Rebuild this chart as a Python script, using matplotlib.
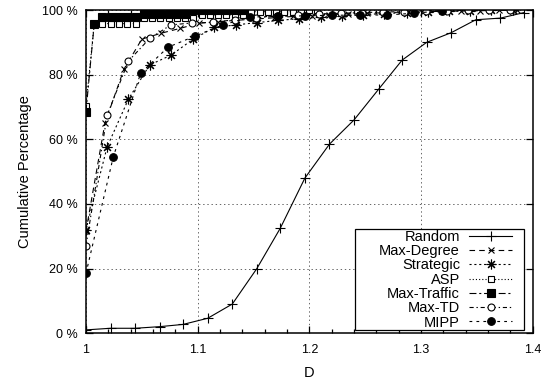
import matplotlib
matplotlib.use("Agg")
import matplotlib.pyplot as plt
from matplotlib.patches import Rectangle
from matplotlib.ticker import MultipleLocator, FuncFormatter

plt.rcParams['font.family'] = ['Liberation Sans', 'DejaVu Sans']
plt.rcParams['lines.scale_dashes'] = False

# Random
rnd_d = [1.0, 1.022, 1.044, 1.066, 1.087, 1.109, 1.131, 1.153, 1.174, 1.196,
         1.218, 1.24, 1.262, 1.283, 1.305, 1.327, 1.349, 1.371, 1.392]
rnd_p = [1.0, 1.5, 1.5, 2.0, 2.7, 4.6, 9.0, 20.0, 32.5, 48.0,
         58.5, 66.0, 75.5, 84.5, 90.0, 93.0, 97.0, 97.5, 99.2]

# Max-Degree
deg_d = [1.0, 1.017, 1.034, 1.05, 1.067, 1.084, 1.101, 1.118, 1.134, 1.151,
         1.168, 1.185, 1.202, 1.218, 1.235, 1.252, 1.269, 1.286, 1.302, 1.319,
         1.336, 1.353, 1.37, 1.386]
deg_p = [31.5, 65.0, 81.7, 91.0, 92.8, 94.3, 95.9, 96.4, 96.8, 97.2,
         97.6, 98.0, 98.3, 98.6, 98.8, 99.0, 99.2, 99.4, 99.5, 99.6,
         99.7, 99.8, 99.9, 100.0]

# Strategic
str_d = [1.0, 1.019, 1.038, 1.057, 1.076, 1.096, 1.115, 1.134, 1.153, 1.172,
         1.191, 1.21, 1.229, 1.248, 1.267, 1.287, 1.306, 1.325, 1.344, 1.363, 1.382]
str_p = [32.0, 57.7, 72.4, 83.0, 86.0, 91.0, 94.6, 95.4, 96.1, 96.8,
         97.3, 97.8, 98.2, 98.6, 98.9, 99.2, 99.4, 99.6, 99.8, 99.9, 100.0]

# ASP
asp_d = [1.0, 1.0074, 1.0148, 1.0222, 1.0296, 1.037, 1.0444, 1.0518, 1.0592, 1.0666,
         1.074, 1.0814, 1.0888, 1.0962, 1.1036, 1.111, 1.1184, 1.1258, 1.1332, 1.1406,
         1.148, 1.1554, 1.1628, 1.1702, 1.1776, 1.185, 1.1924, 1.1998, 1.2072]
asp_p = [70.3, 95.8, 95.8, 95.8, 95.8, 95.8, 95.8, 97.4, 97.4, 97.4,
         97.4, 97.4, 97.4, 97.4, 98.5, 98.5, 98.5, 98.5, 98.5, 98.5,
         99.5, 99.5, 99.5, 99.5, 99.5, 99.5, 99.5, 100.0, 100.0]

# Max-Traffic
trf_d = [1.0, 1.0074, 1.0148, 1.0222, 1.0296, 1.037, 1.0444, 1.0518, 1.0592, 1.0666,
         1.074, 1.0814, 1.0888, 1.0962, 1.1036, 1.111, 1.1184, 1.1258, 1.1332, 1.1406]
trf_p = [68.5, 95.7, 97.7, 97.7, 97.7, 97.7, 97.7, 98.8, 98.8, 98.8,
         98.8, 98.8, 98.8, 100.0, 100.0, 100.0, 100.0, 100.0, 100.0, 100.0]

# Max-TD
td_d = [1.0, 1.019, 1.038, 1.057, 1.076, 1.095, 1.114, 1.133, 1.152, 1.171,
        1.19, 1.209, 1.228, 1.247, 1.266, 1.285, 1.304, 1.323, 1.342, 1.361, 1.38]
td_p = [27.0, 67.5, 84.2, 91.2, 95.4, 96.0, 96.2, 97.0, 97.6, 98.1,
        98.4, 98.8, 99.0, 99.2, 99.4, 99.5, 99.7, 99.8, 99.9, 100.0, 100.0]

# MIPP
mipp_d = [1.0, 1.0245, 1.049, 1.0735, 1.098, 1.1225, 1.147, 1.1715, 1.196, 1.2205,
          1.245, 1.2695, 1.294, 1.3185]
mipp_p = [18.5, 54.6, 80.5, 88.5, 92.0, 95.4, 97.8, 98.1, 98.2, 98.4,
          98.4, 98.5, 99.0, 99.8]

x_ticks = [1.0, 1.1, 1.2, 1.3, 1.4]
x_tick_labels = ['1', '1.1', '1.2', '1.3', '1.4']

fig = plt.figure(figsize=(5.51, 3.86), dpi=100)
ax = fig.add_axes([0.156, 0.137, 0.811, 0.837])

lw = 0.8
ax.plot(rnd_d, rnd_p, color='black', lw=lw, ls='-', marker='+', ms=7,
        mew=lw, label='Random')
ax.plot(deg_d, deg_p, color='black', lw=lw, ls=(0, (4, 3)), marker='x', ms=5,
        mew=lw, label='Max-Degree')
ax.plot(str_d, str_p, color='black', lw=lw, ls=(0, (1.5, 2)), marker=(8, 2, 0),
        ms=7, mew=lw, label='Strategic')
ax.plot(asp_d, asp_p, color='black', lw=lw, ls=(0, (0.8, 1.5)), marker='s', ms=5,
        mew=lw, mfc='white', label='ASP')
ax.plot(trf_d, trf_p, color='black', lw=lw, ls=(0, (5, 2, 1.5, 2)), marker='s',
        ms=5.5, mew=lw, label='Max-Traffic')
ax.plot(td_d, td_p, color='black', lw=lw, ls=(0, (3, 2, 1, 2)), marker='o', ms=5,
        mew=lw, mfc='white', label='Max-TD')
ax.plot(mipp_d, mipp_p, color='black', lw=lw, ls=(0, (2, 3)), marker='o', ms=5.5,
        mew=lw, label='MIPP')

ax.set_xlim(1.0, 1.4)
ax.set_ylim(0, 100)
ax.set_xticks(x_ticks)
ax.set_xticklabels(x_tick_labels)
ax.xaxis.set_minor_locator(MultipleLocator(0.02))
ax.yaxis.set_major_locator(MultipleLocator(20))
ax.yaxis.set_major_formatter(FuncFormatter(lambda v, p: '%d %%' % v))
ax.tick_params(which='both', direction='in', top=True, right=True,
               labelsize=9, width=0.9)
ax.tick_params(which='major', length=5)
ax.tick_params(axis='x', which='major', pad=8)
ax.tick_params(axis='y', which='major', pad=6)
ax.tick_params(which='minor', length=3)
ax.grid(True, which='major', ls=(0, (1, 2)), color='0.4', lw=0.7)
for s in ax.spines.values():
    s.set_linewidth(1.1)

ax.set_xlabel('D', fontsize=10.5, labelpad=7)
ax.set_ylabel('Cumulative Percentage', fontsize=10.5, labelpad=7)

# key box, wider than its entries, sitting in the lower right corner
key_box = Rectangle((0.603, 0.009), 0.378, 0.313, transform=ax.transAxes,
                    facecolor='white', edgecolor='black', lw=0.9, zorder=4)
ax.add_patch(key_box)
leg = ax.legend(loc='lower right', bbox_to_anchor=(0.961, 0.002), borderaxespad=0,
                markerfirst=False, fontsize=10.5, frameon=False,
                handlelength=3.0, handletextpad=0.6,
                labelspacing=0.02, borderpad=0.2)
leg.set_zorder(5)

fig.savefig('out.png', dpi=100)
